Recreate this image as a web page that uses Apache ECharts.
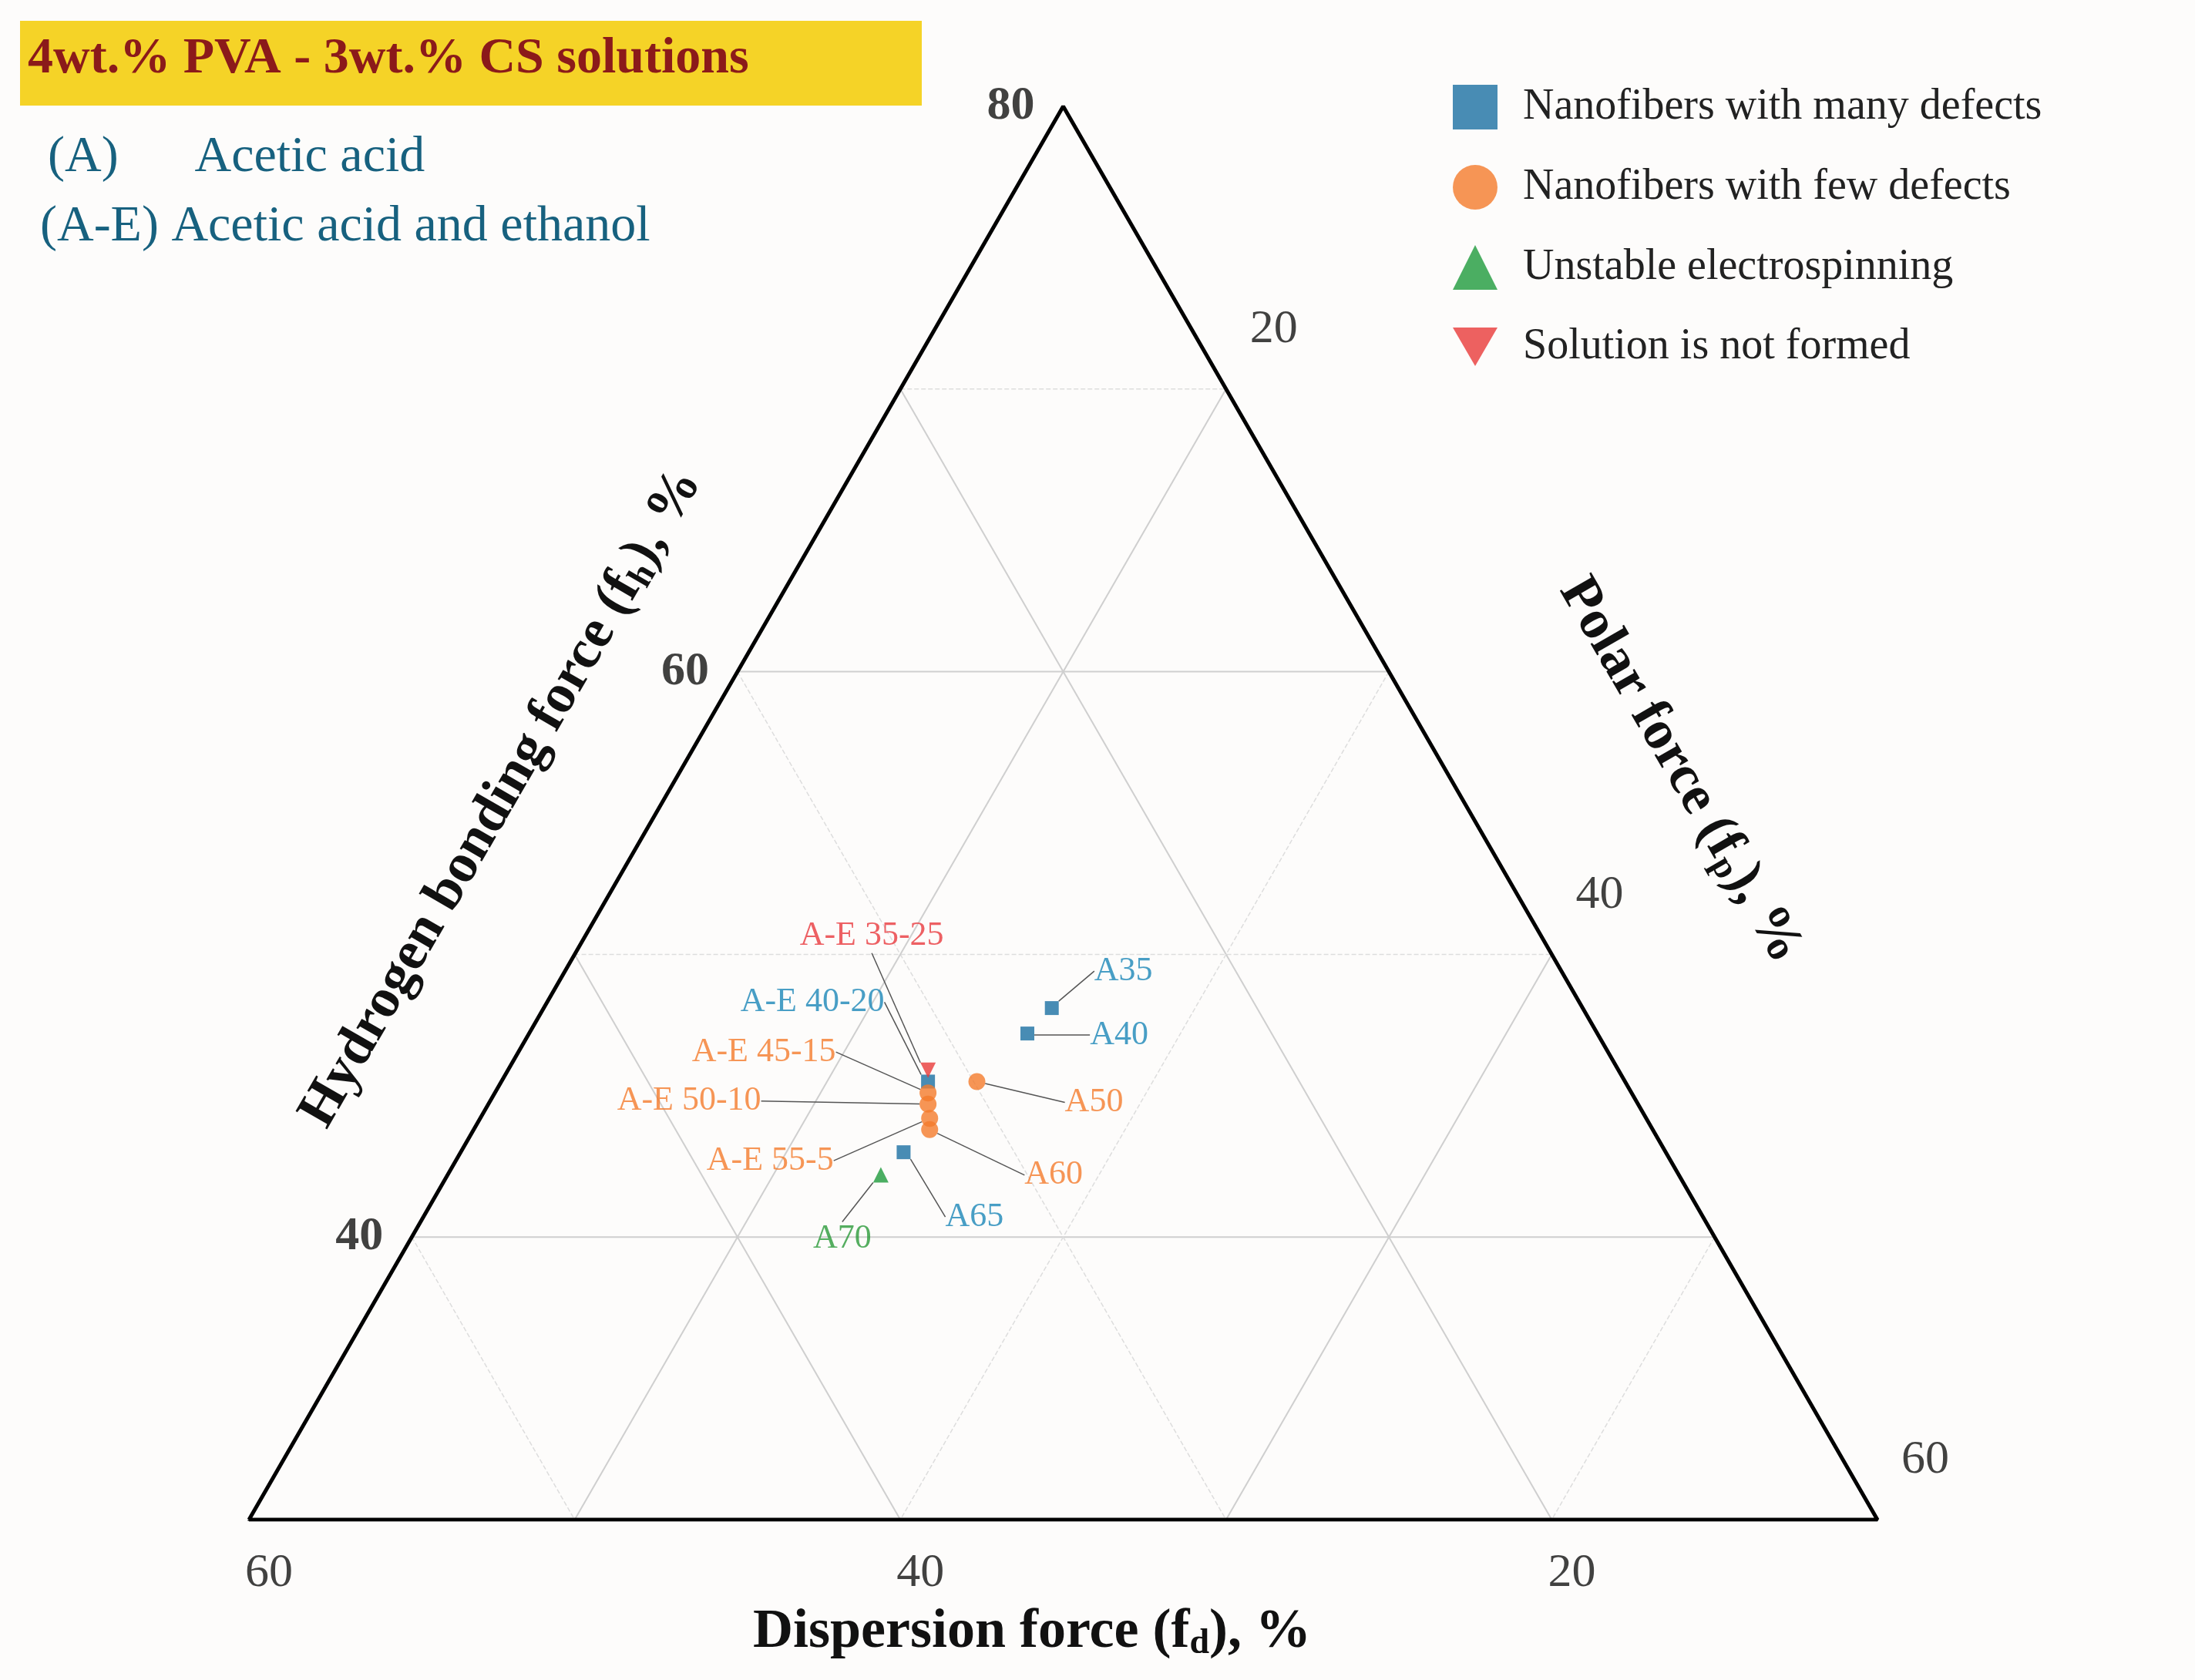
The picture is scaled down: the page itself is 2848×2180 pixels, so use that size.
<!DOCTYPE html>
<html><head><meta charset="utf-8">
<script src="https://cdn.jsdelivr.net/npm/echarts@6/dist/echarts.min.js"></script>
<style>html,body{margin:0;padding:0;background:#fdfcfb}#c{width:2848px;height:2180px}</style>
</head><body><div id="c"></div>
<script>
// ---- data ----
const pointNames = ['A35','A40','A50','A60','A65','A70','A-E 35-25','A-E 40-20','A-E 45-15','A-E 50-10','A-E 55-5'];
const fdVals = [26.3,27.5,29.9,32.2,33.4,34.5,31.2,31.4,31.6,31.8,32.0];
const fhVals = [48.1,47.2,45.5,43.8,43.0,42.2,45.9,45.5,45.1,44.7,44.2];
const fpVals = [25.6,25.3,24.6,24.0,23.6,23.3,22.9,23.1,23.3,23.5,23.8];
const pointClass = [0,0,1,1,0,2,3,0,1,1,1];
const classNames = ['Nanofibers with many defects','Nanofibers with few defects','Unstable electrospinning','Solution is not formed'];
const fhTicks = [40,60,80];
const fdTicks = [60,40,20];
const fpTicks = [20,40,60];

const S3 = Math.sqrt(3)/2;
function xy(fd, fh, fp){ return [(fp-10)+(fh-30)/2, (fh-30)*S3]; }

const classColors = ['#1a6fa3','#f47a2c','#1e9a3c','#e83a3a'];
const labelColors = ['#1a86b8','#f47a2c','#2a9a3a','#e8383d'];
const classSymbols = ['rect','circle','triangle','path://M0,0 L10,0 L5,8.66 Z'];
const classSizes = [18,22,20,20];
const labelOffsets = {
 'A35':[93,-48],'A40':[119,2],'A50':[152,27],'A60':[161,59],'A65':[92,84],'A70':[-50,83],
 'A-E 35-25':[-73,-174],'A-E 40-20':[-150,-103],'A-E 45-15':[-213,-53],'A-E 50-10':[-310,-4],'A-E 55-5':[-207,55]
};
const FONT = '"Liberation Serif","DejaVu Serif",serif';

const series = [];
// grid lines
function gl(p1,p2,dashed){
  series.push({type:'line',silent:true,symbol:'none',data:[xy(...p1),xy(...p2)],
    lineStyle:{color:dashed?'#dddddd':'#cfcfcf',width:dashed?1.5:2,type:dashed?'dashed':'solid'},z:1});
}
[40,50,60,70].forEach(v=>gl([90-v,v,10],[10,v,90-v],v%20!==0));
[20,30,40,50].forEach(v=>gl([v,90-v,10],[v,30,70-v],v%20!==0));
[20,30,40,50].forEach(v=>gl([90-v,10,v].map((a,i)=>i===0?90-v:(i===1?v<0?0:null:v)),[0,0,0],true));
series.length -= 4;
[20,30,40,50].forEach(v=>gl([10,90-v,v],[70-v,30,v],v%20!==0));
// bottom ticks
[60,50,40,30,20].forEach(v=>{
  series.push({type:'line',silent:true,symbol:'none',data:[xy(v,30,70-v),[xy(v,30,70-v)[0],-0.35]],lineStyle:{color:'#000',width:3},z:3});
});
// triangle
series.push({type:'line',silent:true,symbol:'none',data:[xy(60,30,10),xy(10,80,10),xy(10,30,60),xy(60,30,10)],lineStyle:{color:'#000',width:5},z:4});
// tick labels
const tickData = [];
fhTicks.forEach(v=>tickData.push({value:xy(90-v,v,10),name:String(v),label:{offset:[-68,0],fontWeight:'bold'}}));
fpTicks.forEach(v=>tickData.push({value:xy(10,90-v,v),name:String(v),label:{offset:[62,-77]}}));
fdTicks.forEach(v=>tickData.push({value:xy(v,30,70-v),name:String(v),label:{offset:[26,70]}}));
series.push({type:'scatter',silent:true,symbolSize:0,data:tickData,
  label:{show:true,position:'inside',formatter:'{b}',color:'#111',fontSize:62,fontFamily:FONT},z:5});
// points
classNames.forEach((cn,ci)=>{
  const data=[];
  pointNames.forEach((n,i)=>{ if(pointClass[i]===ci) data.push({name:n,value:xy(fdVals[i],fhVals[i],fpVals[i])}); });
  series.push({type:'scatter',name:cn,symbol:classSymbols[ci],symbolSize:classSizes[ci],
    itemStyle:{color:classColors[ci]},data:data,z:10,
    label:{show:true,position:'inside',formatter:'{b}',color:labelColors[ci],fontSize:44,fontFamily:FONT},
    labelLine:{show:true,lineStyle:{color:'#555',width:1.5}},
    labelLayout:function(p){const o=labelOffsets[p.text]||[0,0];return {dx:o[0],dy:o[1]};}
  });
});

const chart = echarts.init(document.getElementById('c'));
chart.setOption({
  backgroundColor:'#fdfcfb',
  animation:false,
  grid:{left:323,top:138,width:2113,height:1834},
  xAxis:{type:'value',min:0,max:50,show:false},
  yAxis:{type:'value',min:0,max:50*S3,show:false},
  legend:{orient:'vertical',left:1880,top:105,itemWidth:58,itemHeight:58,itemGap:46,
    data:classNames.map((n,i)=>({name:n,icon:classSymbols[i]})),
    textStyle:{fontSize:56,fontFamily:FONT,color:'#222',padding:[0,0,0,28]}},
  graphic:[
    {type:'rect',left:26,top:27,shape:{width:1170,height:110},style:{fill:'#f5d327'}},
    {type:'text',left:36,top:44,style:{text:'4wt.% PVA - 3wt.% CS solutions',font:'bold 66px '+FONT,fill:'#8b1a1a'}},
    {type:'text',left:62,top:172,style:{text:'(A)      Acetic acid',font:'66px '+FONT,fill:'#17617f'}},
    {type:'text',left:52,top:262,style:{text:'(A-E) Acetic acid and ethanol',font:'66px '+FONT,fill:'#17617f'}},
    {type:'text',x:1339,y:2118,style:{text:'Dispersion force (f{s|d}), %',align:'center',verticalAlign:'middle',font:'bold 72px '+FONT,fill:'#111',
      rich:{s:{fontSize:46,fontWeight:'bold',fontFamily:FONT,padding:[30,0,0,0]}}}},
    {type:'text',x:651,y:1036,rotation:Math.PI/3,style:{text:'Hydrogen bonding force (f{s|h}), %',align:'center',verticalAlign:'middle',font:'bold 72px '+FONT,fill:'#111',
      rich:{s:{fontSize:46,fontWeight:'bold',fontFamily:FONT,padding:[30,0,0,0]}}}},
    {type:'text',x:2180,y:1000,rotation:-Math.PI/3,style:{text:'Polar force (f{s|p}), %',align:'center',verticalAlign:'middle',font:'bold 72px '+FONT,fill:'#111',
      rich:{s:{fontSize:46,fontWeight:'bold',fontFamily:FONT,padding:[30,0,0,0]}}}}
  ],
  series:series
});
</script></body></html>
